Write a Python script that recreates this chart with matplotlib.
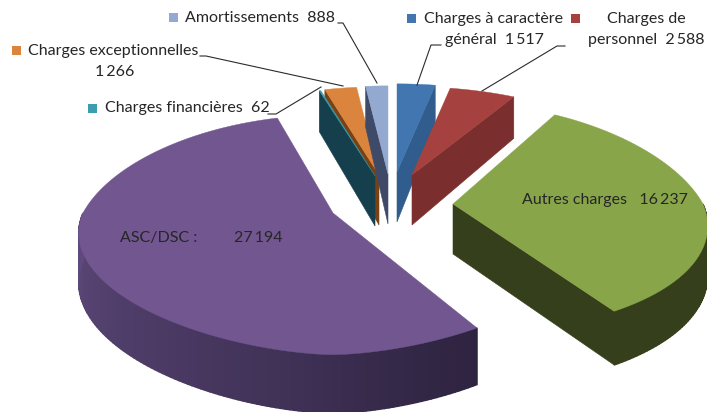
import numpy as np
import matplotlib.pyplot as plt

plt.switch_backend("Agg")

# Chart data
categories = [
    "Charges à caractère général",
    "Charges de personnel",
    "Autres charges",
    "ASC/DSC",
    "Charges financières",
    "Charges exceptionnelles",
    "Amortissements",
]
values = [1517, 2588, 16237, 27194, 62, 1266, 888]
value_labels = ["1\u2009517", "2\u2009588", "16\u2009237", "27\u2009194", "62", "1\u2009266", "888"]

# Slice layout, in the same order as the data: apex in pixels, vertical radius, perspective
apex = [(397, 172), (412, 175), (453, 204), (333, 213), (375, 176), (379, 175), (388, 174)]
ry = [104, 104, 114, 116, 104, 104, 104]
persp_y = [0.18, 0.18, 0.127, 0.181, 0.18, 0.18, 0.18]
persp_x_front = [0.12, 0.12, 0.19, 0.2, 0.12, 0.12, 0.12]
front_power = [1, 1, 1, 1.2, 1, 1, 1]
top_colors = ["#4176B0", "#A5413F", "#88A54A", "#71568F", "#3A9DB0", "#DB843D", "#93A9CF"]
side_colors = ["#305C8E", "#7A2E2D", "#3B4720", "#5F4A7D", "#153F4C", "#7A4212", "#3E4A68"]
rim_dark = ["#305C8E", "#7A2E2D", "#353F1C", "#2E2340", "#153F4C", "#7A4212", "#3E4A68"]
draw_order = [5, 4, 6, 0, 1, 2, 3]

RX = 250
PERSP_X_BACK = 0.25
DEPTH = 48
FONT = "Lato"


def project(i, angle, drop=False):
    """Project the rim point of slice i at a clockwise angle (degrees from top) to pixels."""
    u, v = np.sin(np.radians(angle)), np.cos(np.radians(angle))
    if v > 0:
        spread = u / (1 + PERSP_X_BACK * v)
    else:
        spread = np.sign(u) * abs(u) ** front_power[i] / (1 + persp_x_front[i] * v)
    scale = 1 / (1 + persp_y[i] * v)
    x = apex[i][0] + RX * spread
    y = apex[i][1] - ry[i] * v * scale
    if drop:
        y = y + DEPTH * scale
    return x, y


def blend(c1, c2, t):
    a = np.array(plt.matplotlib.colors.to_rgb(c1))
    b = np.array(plt.matplotlib.colors.to_rgb(c2))
    return tuple(a + (b - a) * t)


def draw_slice(ax, i, a1, a2):
    pt = apex[i]
    low = (pt[0], pt[1] + DEPTH + 2)

    # radial walls that face the viewer
    for angle, visible in ((a1, np.sin(np.radians(a1)) < -1e-6), (a2, np.sin(np.radians(a2)) > 1e-6)):
        if visible:
            top = project(i, angle)
            bot = project(i, angle, drop=True)
            wall_color = rim_dark[i] if i in (2,) else side_colors[i]
            ax.fill([pt[0], top[0], bot[0], low[0]], [pt[1], top[1], bot[1], low[1]],
                    color=wall_color, lw=0.4)

    # outer wall, only on the front half
    start, end = max(a1, 90), min(a2, 270)
    if end > start:
        steps = np.linspace(start, end, int(end - start) + 2)
        for s0, s1 in zip(steps[:-1], steps[1:]):
            t = abs((s0 + s1) / 2 - 270) / 123
            p = [project(i, s0), project(i, s1), project(i, s1, drop=True), project(i, s0, drop=True)]
            ax.fill(*zip(*p), color=blend(side_colors[i], rim_dark[i], min(t, 1)), lw=1.0)

    # top face
    arc = np.linspace(a1, a2, max(int(a2 - a1) * 2, 2) + 1)
    rim = [project(i, a) for a in arc]
    ax.fill([pt[0]] + [p[0] for p in rim], [pt[1]] + [p[1] for p in rim],
            color=top_colors[i], lw=0.3)


def add_label(ax, x, y, text, ha="left", size=11.55):
    ax.text(x, y, text, ha=ha, va="center", family=FONT, fontsize=size, color="#262626")


def add_legend_key(ax, x, y, color):
    ax.fill([x, x + 9, x + 9, x], [y - 4.5, y - 4.5, y + 4.5, y + 4.5], color=color, lw=0)


def main():
    fig = plt.figure(figsize=(7.07, 4.12), dpi=100)
    ax = fig.add_axes([0, 0, 1, 1])
    ax.set_xlim(0, 707)
    ax.set_ylim(412, 0)
    ax.axis("off")

    edges = np.concatenate([[0], np.cumsum(values)]) / np.sum(values) * 360
    for i in draw_order:
        draw_slice(ax, i, edges[i], edges[i + 1])

    # leader lines
    leaders = [
        ([338, 343, 377], [23, 23, 83]),
        ([200, 206, 343], [56, 56, 86]),
        ([268, 276, 321], [114, 114, 87]),
        ([441, 431, 417], [45, 45, 85]),
        ([565, 557, 482], [46, 46, 91]),
    ]
    for xs, ys in leaders:
        ax.plot(xs, ys, color="#2b2b2b", lw=0.8)

    # legend keys
    add_legend_key(ax, 169, 17, top_colors[6])
    add_legend_key(ax, 12, 50, top_colors[5])
    add_legend_key(ax, 88, 108, top_colors[4])
    add_legend_key(ax, 407, 18, top_colors[0])
    add_legend_key(ax, 571, 18, top_colors[1])

    # labels
    add_label(ax, 185, 18, f"{categories[6]}  {value_labels[6]}")
    add_label(ax, 28, 51, categories[5])
    add_label(ax, 115, 72, value_labels[5], ha="center")
    add_label(ax, 105, 108, f"{categories[4]}  {value_labels[4]}")
    add_label(ax, 424, 19, "Charges à caractère")
    add_label(ax, 445, 40, f"général  {value_labels[0]}")
    add_label(ax, 646, 19, "Charges de", ha="center")
    add_label(ax, 646, 40, f"personnel  {value_labels[1]}", ha="center")
    add_label(ax, 522, 200, f"{categories[2]}   {value_labels[2]}")
    add_label(ax, 120, 238, f"{categories[3]} :")
    add_label(ax, 234, 238, value_labels[3])

    fig.savefig("out.png", dpi=100, facecolor="white")


if __name__ == "__main__":
    main()
